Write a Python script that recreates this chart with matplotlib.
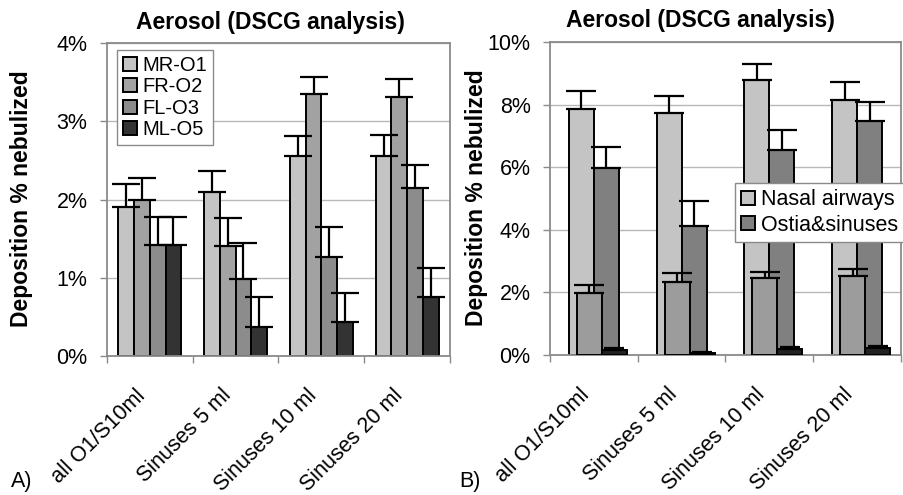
import numpy as np
import matplotlib
matplotlib.use("Agg")
import matplotlib.pyplot as plt
from matplotlib.ticker import FuncFormatter

plt.rcParams["font.family"] = ["Liberation Sans", "DejaVu Sans"]

# data (values in % of nebulized dose)
categories = ["all O1/S10ml", "Sinuses 5 ml", "Sinuses 10 ml", "Sinuses 20 ml"]

left_series = ["MR-O1", "FR-O2", "FL-O3", "ML-O5"]
left_values = [
    [1.90, 2.09, 2.55, 2.55],
    [1.99, 1.41, 3.35, 3.31],
    [1.42, 0.99, 1.26, 2.15],
    [1.42, 0.37, 0.44, 0.75],
]
left_errors = [
    [0.30, 0.28, 0.26, 0.27],
    [0.29, 0.35, 0.22, 0.23],
    [0.36, 0.46, 0.39, 0.29],
    [0.36, 0.38, 0.36, 0.37],
]
left_colors = ["#c4c4c4", "#a2a2a2", "#8c8c8c", "#333333"]

right_series = ["Nasal airways", "Ostia&sinuses"]
nasal_values = [7.87, 7.73, 8.77, 8.16]
nasal_errors = [0.58, 0.56, 0.54, 0.56]
ostia_sinus_values = [5.98, 4.13, 6.54, 7.49]
ostia_sinus_errors = [0.68, 0.80, 0.64, 0.59]
# overlaid second pair of bars
ostia_values = [1.97, 2.32, 2.46, 2.51]
ostia_errors = [0.28, 0.29, 0.18, 0.24]
sinus_values = [0.16, 0.07, 0.19, 0.22]
sinus_errors = [0.05, 0.03, 0.07, 0.08]
right_colors = ["#c4c4c4", "#808080"]
overlay_colors = ["#9c9c9c", "#222222"]

W, H = 904, 495
fig = plt.figure(figsize=(W / 100, H / 100), dpi=100)


def px_axes(x0, y0, x1, y1):
    return fig.add_axes([x0 / W, 1 - y1 / H, (x1 - x0) / W, (y1 - y0) / H])


def style_axes(ax, ymax, step):
    ax.set_xlim(-0.5, len(categories) - 0.5)
    ax.set_ylim(0, ymax)
    ax.set_yticks(np.arange(0, ymax + 0.001, step))
    ax.yaxis.set_major_formatter(FuncFormatter(lambda v, p: f"{v:.0f}%"))
    ax.set_axisbelow(True)
    ax.yaxis.grid(True, color="#b8b8b8", lw=1)
    for s in ax.spines.values():
        s.set_color("#8a8a8a")
        s.set_linewidth(1.3)
    ax.tick_params(axis="y", labelsize=15.5, length=5, width=1, color="#8a8a8a", pad=9)
    ax.set_xticks(range(len(categories)))
    ax.set_xticklabels(categories, rotation=45, ha="right", fontsize=15.5)
    ax.tick_params(axis="x", which="major", length=0, pad=21)
    ax.set_xticks(np.arange(-0.5, len(categories)), minor=True)
    ax.tick_params(axis="x", which="minor", length=5, width=1, color="#8a8a8a")


def up_errors(ax, x, vals, errs, cap, z):
    ax.errorbar(x, vals, yerr=[np.zeros(len(errs)), errs], fmt="none",
                ecolor="black", elinewidth=1.6, capsize=cap, capthick=1.6, zorder=z)


# ---- panel A
ax1 = px_axes(107, 43, 450, 356)
x = np.arange(len(categories))
bw = 0.183
for i, (name, vals, errs, col) in enumerate(zip(left_series, left_values, left_errors, left_colors)):
    xi = x + (i - 1.5) * bw
    ax1.bar(xi, vals, width=bw, color=col, edgecolor="black", lw=1.4, label=name, zorder=2)
    up_errors(ax1, xi, vals, errs, 10, 3)
style_axes(ax1, 4, 1)
ax1.legend(loc="upper left", bbox_to_anchor=(117 / W, 1 - 50 / H), bbox_transform=fig.transFigure,
           fontsize=14.5, frameon=True, fancybox=False, edgecolor="#8a8a8a", framealpha=1,
           handlelength=0.7, handleheight=0.7, handletextpad=0.25, labelspacing=0.12,
           borderpad=0.3, borderaxespad=0)

# ---- panel B
ax2 = px_axes(550, 42, 901, 355)
bw2 = 0.284
ax2.bar(x - bw2 / 2, nasal_values, width=bw2, color=right_colors[0], edgecolor="black", lw=1.4,
        label=right_series[0], zorder=2)
ax2.bar(x + bw2 / 2, ostia_sinus_values, width=bw2, color=right_colors[1], edgecolor="black", lw=1.4,
        label=right_series[1], zorder=2)
up_errors(ax2, x - bw2 / 2, nasal_values, nasal_errors, 11, 2.5)
up_errors(ax2, x + bw2 / 2, ostia_sinus_values, ostia_sinus_errors, 11, 2.5)
off = -0.051
ax2.bar(x + off, ostia_values, width=bw2, color=overlay_colors[0], edgecolor="black", lw=1.4, zorder=3)
ax2.bar(x + off + bw2, sinus_values, width=bw2, color=overlay_colors[1], edgecolor="black", lw=1.4, zorder=3)
up_errors(ax2, x + off, ostia_values, ostia_errors, 11, 3.5)
up_errors(ax2, x + off + bw2, sinus_values, sinus_errors, 7, 3.5)
style_axes(ax2, 10, 2)
leg = ax2.legend(loc="upper left", bbox_to_anchor=(735 / W, 1 - 183 / H), bbox_transform=fig.transFigure,
                 fontsize=15.5, frameon=True, fancybox=False, edgecolor="#8a8a8a", framealpha=1,
                 handlelength=0.65, handleheight=0.65, handletextpad=0.25, labelspacing=0.2,
                 borderpad=0.3, borderaxespad=0)
leg.set_zorder(10)

# titles, axis labels, panel letters
fig.text(270 / W, 1 - 22 / H, "Aerosol (DSCG analysis)", ha="center", va="center",
         fontsize=16.5, fontweight="bold")
fig.text(700 / W, 1 - 20 / H, "Aerosol (DSCG analysis)", ha="center", va="center",
         fontsize=16.5, fontweight="bold")
fig.text(22 / W, 1 - 199 / H, "Deposition % nebulized", rotation=90, ha="center", va="center",
         fontsize=16.5, fontweight="bold")
fig.text(476 / W, 1 - 198 / H, "Deposition % nebulized", rotation=90, ha="center", va="center",
         fontsize=16.5, fontweight="bold")
fig.text(22 / W, 1 - 482 / H, "A)", ha="center", va="center", fontsize=15.5)
fig.text(470 / W, 1 - 482 / H, "B)", ha="center", va="center", fontsize=15.5)

fig.savefig("out.png", dpi=100)
